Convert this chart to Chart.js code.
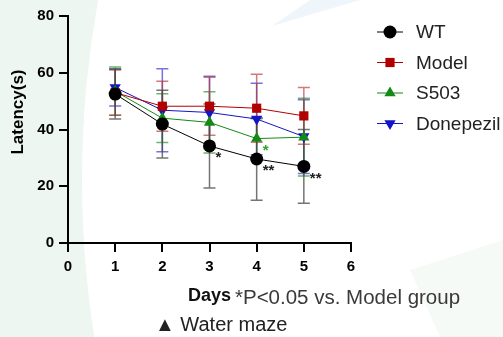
<!DOCTYPE html>
<html>
<head>
<meta charset="utf-8">
<script src="https://cdn.jsdelivr.net/npm/chart.js@4.4.0/dist/chart.umd.min.js"></script>
<style>
  html, body { margin: 0; padding: 0; overflow: hidden; }
  body { width: 503px; height: 337px; position: relative; background: #eef6f1; font-family: "Liberation Sans", Arial, sans-serif; }
  .bg-white { position: absolute; left: 82px; top: -830px; width: 2020px; height: 2020px; border-radius: 50%; background: #fff; }
  .bg-blue { position: absolute; left: 0; top: 0; width: 503px; height: 337px; background: #eef5fb;
    clip-path: polygon(272px 26px, 310px 0px, 360px 0px); }
  .bg-green { position: absolute; left: 0; top: 0; width: 503px; height: 337px; background: #f6faf7;
    clip-path: polygon(410px 270px, 503px 240px, 503px 337px, 440px 337px); }
  #wrap { position: absolute; left: 0; top: 0; width: 503px; height: 337px; }
  .note { position: absolute; white-space: nowrap; color: #333; }
</style>
</head>
<body>
<div class="bg-white"></div>
<div class="bg-blue"></div>
<div class="bg-green"></div>
<div id="wrap"><canvas id="chart" width="503" height="337"></canvas></div>
<div class="note" style="left:188px; top:285px; font-size:18px; font-weight:bold; color:#111;">Days</div>
<div class="note" style="left:235px; top:285px; font-size:20.5px; color:#3a3a3a;">*P&lt;0.05 vs. Model group</div>
<div class="note" style="left:155px; top:313px; font-size:20px; color:#222;">▲ Water maze</div>
<script>
const days = [1, 2, 3, 4, 5];
const seriesNames = ['WT', 'Model', 'S503', 'Donepezil'];

const wtMean = [52.5, 41.9, 34.2, 29.6, 27.0];
const wtSd = [8.8, 11.9, 14.8, 14.5, 13.0];
const modelMean = [53.0, 48.2, 48.2, 47.5, 44.8];
const modelSd = [8.0, 8.8, 10.2, 12.0, 10.0];
const s503Mean = [53.5, 44.0, 42.5, 36.8, 37.3];
const s503Sd = [8.5, 8.6, 10.8, 7.0, 13.7];
const donMean = [54.8, 46.8, 46.0, 43.7, 37.5];
const donSd = [6.5, 14.6, 12.8, 12.6, 13.0];

// significance marks vs Model: [series index, day, label]
const stars = [[0, 3, '*'], [0, 4, '**'], [0, 5, '**'], [2, 4, '*']];

const yTicks = [0, 20, 40, 60, 80];
const xTicks = [0, 1, 2, 3, 4, 5, 6];

const colors = ['#000000', '#b00000', '#138a13', '#1414c8'];
const barColors = ['rgba(70,70,70,0.75)', 'rgba(185,50,50,0.65)', 'rgba(30,140,30,0.65)', 'rgba(40,40,210,0.65)'];
const styles = ['circle', 'rect', 'triangle', 'triangle'];
const rotations = [0, 0, 0, 180];
const means = [wtMean, modelMean, s503Mean, donMean];
const sds = [wtSd, modelSd, s503Sd, donSd];

const FONT = '"Liberation Sans", Arial, sans-serif';

const datasets = seriesNames.map((name, i) => ({
    label: name,
    data: days.map((d, j) => ({ x: d, y: means[i][j] })),
    borderColor: colors[i],
    backgroundColor: colors[i],
    borderWidth: 1,
    pointStyle: styles[i],
    rotation: rotations[i],
    pointRadius: i === 1 ? 6.5 : 6.5,
    pointBorderWidth: 0,
    tension: 0
}));

const errorBars = {
    id: 'errorBars',
    beforeDatasetsDraw(chart) {
        const ctx = chart.ctx;
        const xs = chart.scales.x, ys = chart.scales.y;
        ctx.save();
        for (let i = sds.length - 1; i >= 0; i--) {
            ctx.strokeStyle = barColors[i];
            ctx.lineWidth = 1.5;
            days.forEach((d, j) => {
                const x = xs.getPixelForValue(d);
                const top = ys.getPixelForValue(means[i][j] + sds[i][j]);
                const bot = ys.getPixelForValue(means[i][j] - sds[i][j]);
                ctx.beginPath();
                ctx.moveTo(x, top); ctx.lineTo(x, bot);
                ctx.moveTo(x - 6, top); ctx.lineTo(x + 6, top);
                ctx.moveTo(x - 6, bot); ctx.lineTo(x + 6, bot);
                ctx.stroke();
            });
        }
        ctx.restore();
    },
    afterDraw(chart) {
        const ctx = chart.ctx;
        const xs = chart.scales.x, ys = chart.scales.y;
        ctx.save();
        // stars
        ctx.font = 'bold 15px ' + FONT;
        ctx.textAlign = 'left';
        ctx.textBaseline = 'middle';
        stars.forEach(([s, d, txt]) => {
            const j = days.indexOf(d);
            const x = xs.getPixelForValue(d);
            const y = ys.getPixelForValue(means[s][j]);
            ctx.fillStyle = s === 0 ? '#222' : '#2ea02e';
            ctx.fillText(txt, x + 6, y + 12);
        });
        // y title
        ctx.fillStyle = '#000';
        ctx.font = 'bold 17px ' + FONT;
        ctx.textAlign = 'center';
        ctx.translate(18, 112);
        ctx.rotate(-Math.PI / 2);
        ctx.fillText('Latency(s)', 0, 0);
        ctx.restore();

        // legend
        ctx.save();
        ctx.font = '19px ' + FONT;
        ctx.textBaseline = 'middle';
        ctx.textAlign = 'left';
        seriesNames.forEach((name, i) => {
            const y = 32 + i * 30.5;
            ctx.strokeStyle = colors[i];
            ctx.lineWidth = 1;
            ctx.beginPath();
            ctx.moveTo(377, y); ctx.lineTo(403, y);
            ctx.stroke();
            ctx.fillStyle = colors[i];
            Chart.helpers.drawPoint(ctx, {
                pointStyle: styles[i], radius: 6.5, rotation: rotations[i], borderWidth: 0
            }, 390, y);
            ctx.fillStyle = '#222';
            ctx.fillText(name, 416, y + 1);
        });
        ctx.restore();
    }
};

new Chart(document.getElementById('chart'), {
    type: 'line',
    data: { datasets },
    options: {
        responsive: false,
        animation: false,
        layout: { padding: { left: 0, right: 152, top: 16, bottom: 0 } },
        plugins: { legend: { display: false }, tooltip: { enabled: false } },
        scales: {
            x: {
                type: 'linear',
                min: 0, max: 6,
                afterFit(scale) { scale.height = 94; },
                afterBuildTicks(scale) { scale.ticks = xTicks.map(v => ({ value: v })); },
                border: { display: true, color: '#000', width: 2 },
                grid: { display: true, drawOnChartArea: false, drawTicks: true, tickLength: 9, color: '#000', lineWidth: 2 },
                ticks: { color: '#000', padding: 6, font: { family: FONT, size: 15, weight: 'bold' } }
            },
            y: {
                min: 0, max: 80,
                afterFit(scale) { scale.width = 68; },
                afterBuildTicks(scale) { scale.ticks = yTicks.map(v => ({ value: v })); },
                border: { display: true, color: '#000', width: 2 },
                grid: { display: true, drawOnChartArea: false, drawTicks: true, tickLength: 9, color: '#000', lineWidth: 2 },
                ticks: { color: '#000', padding: 5, font: { family: FONT, size: 15, weight: 'bold' } }
            }
        }
    },
    plugins: [errorBars]
});
</script>
</body>
</html>
